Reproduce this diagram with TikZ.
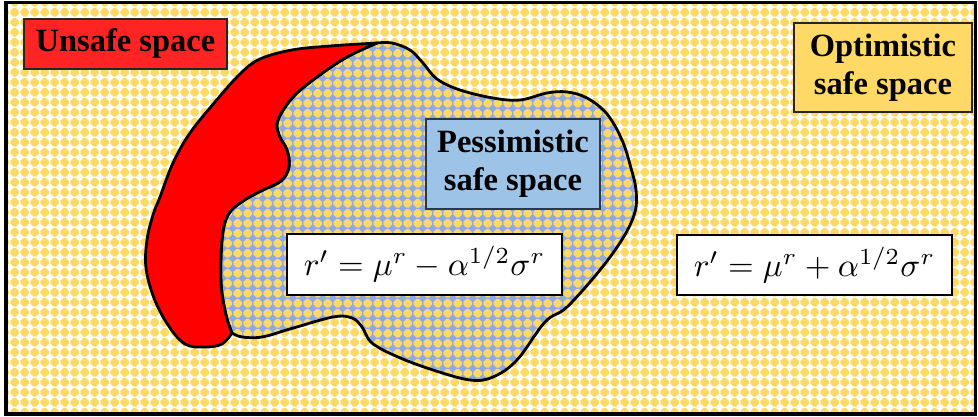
\documentclass[tikz,border=0pt]{standalone}
\usepackage[no-math]{fontspec}
\setmainfont{Liberation Serif}
\usetikzlibrary{patterns}
\definecolor{ylw}{HTML}{FFD966}
\definecolor{blu}{HTML}{8FAADC}
\definecolor{boxblu}{HTML}{9DC3E6}
\definecolor{boxred}{HTML}{FF2424}
\definecolor{boxylw}{HTML}{FFD966}
\pgfdeclarepatternformonly{ydots}{\pgfqpoint{0pt}{0pt}}{\pgfqpoint{9.7pt}{9.7pt}}{\pgfqpoint{9.7pt}{9.7pt}}{%
  \pgfpathmoveto{\pgfqpoint{0.45pt}{3.55pt}}%
  \pgfpathlineto{\pgfqpoint{3.55pt}{0.45pt}}%
  \pgfpathlineto{\pgfqpoint{6.15pt}{0.45pt}}%
  \pgfpathlineto{\pgfqpoint{9.25pt}{3.55pt}}%
  \pgfpathlineto{\pgfqpoint{9.25pt}{6.15pt}}%
  \pgfpathlineto{\pgfqpoint{6.15pt}{9.25pt}}%
  \pgfpathlineto{\pgfqpoint{3.55pt}{9.25pt}}%
  \pgfpathlineto{\pgfqpoint{0.45pt}{6.15pt}}%
  \pgfpathclose\pgfusepath{fill}}
\begin{document}
\begin{tikzpicture}[x=1pt,y=-1pt,
  lbl/.style={draw=black!85, line width=1.3pt, font=\fontsize{32.5}{38}\selectfont\bfseries, align=center, inner sep=0pt},
  frm/.style={draw=black, line width=1.3pt, fill=white, inner sep=0pt},
  outline/.style={draw=black, line width=2.8pt, line join=round}]
\useasboundingbox (0,0) rectangle (978,417);
\fill[white] (0,0) rectangle (978,417);
\path[pattern=ydots, pattern color=ylw] (6,2.5) rectangle (975.5,414);
% pessimistic blob
\path[outline, preaction={fill=blu}, pattern=ydots, pattern color=ylw]
  plot[smooth, tension=0.6] coordinates {(377,43) (347,57) (317,77) (293,97) (278,120) (279,135) (287,150) (289,167) (281,181) (263,190) (243,201) (228,215) (222,240) (221,283) (226,315) (232,333)}
  -- plot[smooth, tension=0.6] coordinates {(232,333) (242,337) (262,337) (290,329) (333,317) (352,318) (362,327) (372,343) (398,357) (433,370) (470,380) (493,377) (517,360) (545,322) (567,307) (600,270) (623,238) (635,212) (636,190) (631,168) (622,140) (607,114) (587,98) (567,92) (547,93) (520,100) (493,98) (460,90) (437,79) (423,63) (410,50) (392,43) (377,43)}
  -- cycle;
% unsafe blob
\path[outline, fill=red]
  plot[smooth, tension=0.6] coordinates {(377,43) (347,57) (317,77) (293,97) (278,120) (279,135) (287,150) (289,167) (281,181) (263,190) (243,201) (228,215) (222,240) (221,283) (226,315) (232,333)}
  -- plot[smooth, tension=0.6] coordinates {(232,333) (222,344) (205,347) (185,344) (168,325) (154,298) (146,268) (147,240) (153,215) (160,197) (173,163) (190,133) (215,102) (240,74) (260,59) (292,50) (330,46) (377,43)}
  -- cycle;
% outer frame
\draw[line width=3.5pt] (6,2.5) rectangle (975.5,414);
% labels
\node[lbl, fill=boxred, minimum width=203pt, minimum height=50pt] (unsafe) at (125.5,44) {Unsafe space};
\node[lbl, fill=boxylw, minimum width=178pt, minimum height=89pt] (opt) at (883,67.5) {Optimistic\\safe space};
\node[lbl, fill=boxblu, draw={rgb,255:red,40;green,55;blue,75}, minimum width=174pt, minimum height=90pt] (pess) at (513,164) {Pessimistic\\safe space};
\node[frm, minimum width=275pt, minimum height=61pt] (fpess) at (424.5,264.5) {\scalebox{3.3}{$r' = \mu^r - \alpha^{1/2}\sigma^r$}};
\node[frm, minimum width=275pt, minimum height=60pt] (fopt) at (814.5,265) {\scalebox{3.3}{$r' = \mu^r + \alpha^{1/2}\sigma^r$}};
\end{tikzpicture}
\end{document}
